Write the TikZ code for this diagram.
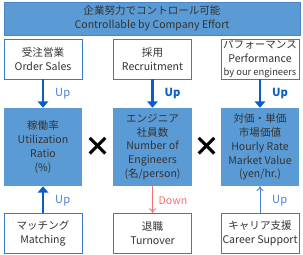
\documentclass[tikz,border=0pt]{standalone}
\usepackage{fontspec}
\setmainfont{Noto Sans CJK JP}
\usetikzlibrary{arrows.meta}
\definecolor{bannerblue}{HTML}{5B9BD5}
\definecolor{edgeblue}{HTML}{4A86C5}
\definecolor{lineblue}{HTML}{3A7BC8}
\definecolor{arrowblue}{HTML}{0B5CCB}
\definecolor{upblue}{HTML}{4A80D6}
\definecolor{downred}{HTML}{F47070}
\definecolor{textgray}{HTML}{333333}

\begin{document}
\begin{tikzpicture}[x=0.03cm, y=-0.03cm,
    every node/.style={font=\fontsize{9}{11.8}\selectfont, text=textgray, align=center, inner sep=0pt},
    banner/.style={draw=edgeblue, fill=bannerblue, line width=0.6pt, minimum width=8.88cm, minimum height=0.99cm},
    factor/.style={draw=lineblue, fill=white, line width=0.8pt, minimum width=2.34cm, minimum height=1.2cm},
    metric/.style={fill=bannerblue, minimum width=2.34cm, minimum height=2.34cm},
    thickup/.style={arrowblue, line width=2.4pt, -{Triangle[length=5.5pt, width=9pt]}},
    thinup/.style={upblue, line width=0.8pt, -{To[length=4pt, width=6pt]}},
    thindown/.style={downred, line width=0.8pt, -{To[length=4pt, width=6pt]}},
    uplabel/.style={text=upblue, anchor=west, font=\fontsize{9.5}{11.8}\selectfont},
    upbold/.style={text=arrowblue, anchor=west, font=\fontsize{9.5}{11.8}\selectfont\bfseries},
    downlabel/.style={text=downred, anchor=west},
    times/.style={font=\fontsize{23}{23}\selectfont\bfseries, text=black}]
  \useasboundingbox (0,0) rectangle (303,255);

  \node[banner] (ctrl) at (152,18.5) {企業努力でコントロール可能\\Controllable by Company Effort};

  \node[factor] (sales) at (43,59) {受注営業\\Order Sales};
  \node[factor] (recruit) at (152.5,59) {採用\\Recruitment};
  \node[factor] (perf) at (260,59) {パフォーマンス\\Performance\\{\fontsize{8}{9}\selectfont by our engineers}};

  \node[metric] (util) at (43,147) {稼働率\\Utilization\\Ratio\\(\%)};
  \node[metric] (engr) at (152.5,147) {エンジニア\\社員数\\Number of\\Engineers\\(名/person)};
  \node[metric] (rate) at (260,147) {対価・単価\\市場価値\\Hourly Rate\\Market Value\\(yen/hr.)};

  \node[factor] (match) at (43,233.5) {マッチング\\Matching};
  \node[factor] (turn) at (152.5,233.5) {退職\\Turnover};
  \node[factor] (career) at (260,233.5) {キャリア支援\\Career Support};

  \node[times] (x1) at (97.5,147) {×};
  \node[times] (x2) at (206.5,147) {×};

  \draw[thickup] (sales) to (util);
  \draw[thickup] (recruit) to (engr);
  \draw[thickup] (perf) to (rate);
  \draw[thickup] (match) to (util);
  \draw[thindown] (engr) to (turn);
  \draw[thinup] (career) to (rate);

  \node[uplabel] (l1) at (55,94) {Up};
  \node[upbold] (l2) at (164.5,94) {Up};
  \node[upbold] (l3) at (272,94) {Up};
  \node[uplabel] (l4) at (55,201) {Up};
  \node[downlabel] (l5) at (158.5,201) {Down};
  \node[uplabel] (l6) at (272,201) {Up};
\end{tikzpicture}
\end{document}
